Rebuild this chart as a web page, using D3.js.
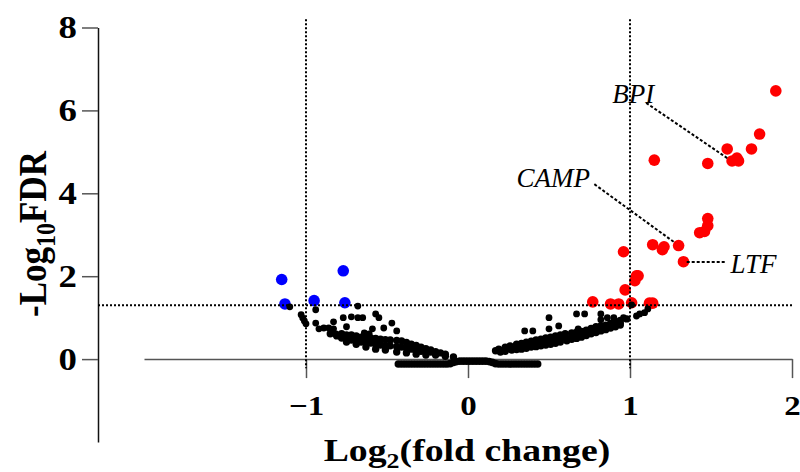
<!DOCTYPE html>
<meta charset="utf-8">
<style>
body { margin: 0; background: #fff; }
svg { display: block; }
text { font-family: "Liberation Serif", "Times New Roman", serif; }
</style>
<body>
<script src="https://cdn.jsdelivr.net/npm/d3@7"></script>
<script>
// log2 fold change / -log10 FDR
var upGenes = [[1.90,6.47],[1.80,5.43],[1.75,5.07],[1.60,5.07],[1.63,4.78],[1.66,4.85],[1.67,4.78],
  [1.48,4.72],[1.15,4.80],[1.48,3.39],[1.48,3.22],[1.46,3.08],[1.43,3.05],[1.30,2.74],[1.21,2.71],
  [1.20,2.64],[1.14,2.76],[0.96,2.59],[1.33,2.35],[1.04,2.01],[1.05,2.01],[1.03,1.89],[0.97,1.67],
  [0.77,1.38],[0.88,1.33],[0.93,1.33],[1.01,1.36],[1.12,1.35],[1.14,1.35]];
var downGenes = [[-1.15,1.92],[-1.13,1.33],[-0.95,1.41],[-0.77,2.13],[-0.76,1.36]];

// not significant: scattered points
var nsScatter = [[-1.10,1.26],[-1.03,1.07],[-1.02,0.99],[-1.01,0.92],[-1.00,0.85],[-0.94,1.19],[-0.94,0.87],
  [-0.92,0.73],[-0.89,0.75],[-0.86,0.75],[-0.83,0.90],[-0.83,0.73],[-0.77,1.00],[-0.75,0.78],[-0.72,1.02],
  [-0.68,1.00],[-0.65,1.00],[-0.68,1.28],[-0.57,1.09],[-0.55,1.00],[-0.59,0.73],[-0.52,0.75],[-0.47,0.87],
  [-0.44,0.68],[-0.64,0.63],[-0.61,0.61],
  [0.35,0.68],[0.40,0.68],[0.50,1.00],[0.50,0.73],[0.56,0.80],[0.67,1.09],[0.72,1.09],[0.68,0.73],
  [0.82,1.09],[0.86,1.00],[0.90,1.00],[0.96,1.00],[1.01,1.31],[1.04,1.04],[1.06,1.09],[1.09,1.12],
  [1.11,1.21],[0.82,0.95]];
// not significant: the dense wings
var nsLeft = [[-0.85,0.61],[-0.78,0.61],[-0.72,0.58],[-0.66,0.53],[-0.60,0.51],[-0.54,0.48],[-0.48,0.46],
  [-0.41,0.44],[-0.35,0.36],[-0.29,0.29],[-0.23,0.22],[-0.17,0.15],
  [-0.815,0.60],[-0.75,0.58],[-0.69,0.56],[-0.63,0.52],[-0.57,0.50],[-0.51,0.47],[-0.44,0.45],[-0.38,0.40],
  [-0.32,0.33],[-0.26,0.25],[-0.20,0.18],[-0.14,0.12],
  [-0.81,0.56],[-0.75,0.41],[-0.69,0.36],[-0.63,0.29],[-0.57,0.24],[-0.51,0.22],[-0.44,0.17],[-0.38,0.15],
  [-0.32,0.12],[-0.26,0.10],[-0.20,0.10],[-0.14,0.07],[-0.09,0.05],
  [-0.78,0.51],[-0.72,0.46],[-0.66,0.41],[-0.60,0.39],[-0.54,0.34],[-0.48,0.32],[-0.41,0.29],[-0.35,0.24],
  [-0.29,0.19],[-0.23,0.17],
  [-0.75,0.48],[-0.69,0.43],[-0.63,0.40],[-0.57,0.36],[-0.51,0.33],[-0.44,0.30],[-0.38,0.26],[-0.32,0.21],
  [-0.26,0.18],[-0.20,0.14]];
var nsRight = [[0.19,0.24],[0.23,0.29],[0.30,0.36],[0.36,0.41],[0.42,0.46],[0.48,0.51],[0.54,0.56],[0.60,0.61],
  [0.67,0.65],[0.73,0.70],[0.79,0.78],[0.85,0.82],[0.91,0.90],[0.98,0.97],
  [0.26,0.32],[0.33,0.38],[0.39,0.43],[0.45,0.48],[0.51,0.53],[0.57,0.58],[0.64,0.63],[0.70,0.67],
  [0.76,0.74],[0.82,0.80],[0.88,0.86],[0.94,0.93],
  [0.20,0.17],[0.27,0.22],[0.33,0.24],[0.39,0.29],[0.45,0.32],[0.51,0.36],[0.57,0.41],[0.64,0.48],
  [0.70,0.53],[0.76,0.61],[0.82,0.68],[0.88,0.75],[0.94,0.82],
  [0.17,0.20],[0.23,0.19],[0.30,0.23],[0.36,0.26],[0.42,0.30],[0.48,0.34],[0.54,0.38],[0.61,0.44],
  [0.67,0.50],[0.73,0.57],[0.79,0.64],[0.85,0.71],[0.91,0.78],
  [0.23,0.22],[0.30,0.29],[0.36,0.34],[0.42,0.39],[0.48,0.44],[0.54,0.48],[0.60,0.53],[0.67,0.58],
  [0.73,0.63],[0.79,0.70],[0.85,0.75],[0.91,0.82],
  [0.26,0.25],[0.33,0.31],[0.39,0.36],[0.45,0.41],[0.51,0.46],[0.57,0.51],[0.64,0.55],[0.70,0.60],
  [0.76,0.66],[0.82,0.72],[0.88,0.78],[0.94,0.87]];
// not significant: FDR ~ 1, the band along zero
var nsZero = [[-0.43,-0.12],[-0.41,-0.12],[-0.39,-0.12],[-0.37,-0.12],[-0.35,-0.12],[-0.33,-0.12],
  [-0.31,-0.12],[-0.29,-0.12],[-0.27,-0.12],[-0.25,-0.12],[-0.23,-0.12],[-0.21,-0.12],[-0.19,-0.12],
  [-0.17,-0.12],[-0.15,-0.12],[-0.13,-0.12],[-0.11,-0.11],[-0.09,-0.08],[-0.07,-0.06],
  [-0.05,-0.05],[-0.03,-0.05],[-0.01,-0.05],[0.01,-0.05],[0.03,-0.05],[0.05,-0.05],[0.07,-0.05],
  [0.09,-0.05],[0.11,-0.05],[0.13,-0.06],[0.15,-0.08],
  [0.17,-0.11],[0.19,-0.12],[0.21,-0.12],[0.23,-0.12],[0.25,-0.12],[0.27,-0.12],[0.29,-0.12],
  [0.31,-0.12],[0.33,-0.12],[0.35,-0.12],[0.37,-0.12],[0.39,-0.12],[0.41,-0.12],[0.43,-0.12]];

var xTicks = [-1, 0, 1, 2],
    yTicks = [0, 2, 4, 6, 8];
var fcCut = [-1, 1],
    fdrCut = 1.3;
// gene labels: text position and leader line (data units)
var labels = [
  {name: "BPI",  tx: 0.89, ty: 6.18, from: [1.10, 6.18], to: [1.60, 4.85]},
  {name: "CAMP", tx: 0.30, ty: 4.15, from: [0.78, 4.22], to: [1.28, 2.80]},
  {name: "LTF",  tx: 1.62, ty: 2.08, from: [1.35, 2.34], to: [1.59, 2.34]}
];

var width = 800, height = 472;
var svg = d3.select("body").append("svg")
    .attr("width", width)
    .attr("height", height);

var x = d3.scaleLinear().domain([-2, 2]).range([144, 792]),
    y = d3.scaleLinear().domain([-2, 8]).range([442, 27.5]);

// axes (the figure's lettering is a bit stretched sideways)
var xAxis = svg.append("g")
    .attr("transform", "translate(0," + y(0) + ")")
    .call(d3.axisBottom(x).tickValues(xTicks).tickSize(19).tickSizeOuter(0).tickPadding(18)
      .tickFormat(d3.format("d")));
xAxis.select(".domain").attr("stroke", "#555").attr("stroke-width", 1.5);
xAxis.selectAll(".tick line").attr("stroke", "#555").attr("stroke-width", 1.5);
xAxis.selectAll(".tick text")
    .attr("fill", "#000")
    .attr("transform", "scale(1.22,1)")
    .style("font-family", "'Liberation Serif', serif")
    .style("font-size", "27px")
    .style("font-weight", "bold");

var yAxis = svg.append("g")
    .attr("transform", "translate(98,0)")
    .call(d3.axisLeft(y).tickValues(yTicks).tickSize(16).tickSizeOuter(0).tickPadding(5));
yAxis.select(".domain").attr("stroke", "#111").attr("stroke-width", 1.5);
yAxis.selectAll(".tick line").attr("stroke", "#555").attr("stroke-width", 1.5);
yAxis.selectAll(".tick text")
    .attr("fill", "#000")
    .attr("x", 0)
    .attr("transform", "translate(-21,0) scale(1.15,1)")
    .style("font-family", "'Liberation Serif', serif")
    .style("font-size", "32px")
    .style("font-weight", "bold");

// points
function dots(data, r, color) {
  svg.append("g").selectAll("circle")
    .data(data)
    .enter().append("circle")
    .attr("cx", function(d) { return x(d[0]); })
    .attr("cy", function(d) { return y(d[1]); })
    .attr("r", r)
    .attr("fill", color);
}
dots(nsZero, 3.8, "#000");
dots(nsLeft, 3.7, "#000");
dots(nsRight, 3.7, "#000");
dots(downGenes, 5.8, "#0000ff");
dots(upGenes, 5.8, "#ff0000");
dots(nsScatter, 3.4, "#000");

// cut-off lines
svg.append("g").selectAll("line")
    .data(fcCut)
    .enter().append("line")
    .attr("x1", function(d) { return x(d); })
    .attr("x2", function(d) { return x(d); })
    .attr("y1", y(8.2))
    .attr("y2", y(-0.22))
    .attr("stroke", "#000")
    .attr("stroke-width", 2)
    .attr("stroke-dasharray", "2,2");
svg.append("line")
    .attr("x1", 98)
    .attr("x2", x(2))
    .attr("y1", y(fdrCut))
    .attr("y2", y(fdrCut))
    .attr("stroke", "#000")
    .attr("stroke-width", 2)
    .attr("stroke-dasharray", "2,2");

// gene labels
var lab = svg.append("g").selectAll("g")
    .data(labels)
    .enter().append("g");
lab.append("line")
    .attr("x1", function(d) { return x(d.from[0]); })
    .attr("y1", function(d) { return y(d.from[1]); })
    .attr("x2", function(d) { return x(d.to[0]); })
    .attr("y2", function(d) { return y(d.to[1]); })
    .attr("stroke", "#000")
    .attr("stroke-width", 2)
    .attr("stroke-dasharray", "3,2");
lab.append("text")
    .attr("x", function(d) { return x(d.tx); })
    .attr("y", function(d) { return y(d.ty); })
    .style("font-size", "27px")
    .style("font-style", "italic")
    .text(function(d) { return d.name; });

// axis titles
var xt = svg.append("text")
    .attr("transform", "translate(467,461) scale(1.18,1)")
    .attr("text-anchor", "middle")
    .style("font-size", "32px")
    .style("font-weight", "bold");
xt.append("tspan").text("Log");
xt.append("tspan").attr("dy", 7).style("font-size", "22px").text("2");
xt.append("tspan").attr("dy", -7).text("(fold change)");

var yt = svg.append("text")
    .attr("transform", "translate(46,234) rotate(-90) scale(1,1.15)")
    .attr("text-anchor", "middle")
    .style("font-size", "35px")
    .style("font-weight", "bold");
yt.append("tspan").text("-Log");
yt.append("tspan").attr("dy", 8).style("font-size", "24px").text("10");
yt.append("tspan").attr("dy", -8).text("FDR");
</script>
</body>
